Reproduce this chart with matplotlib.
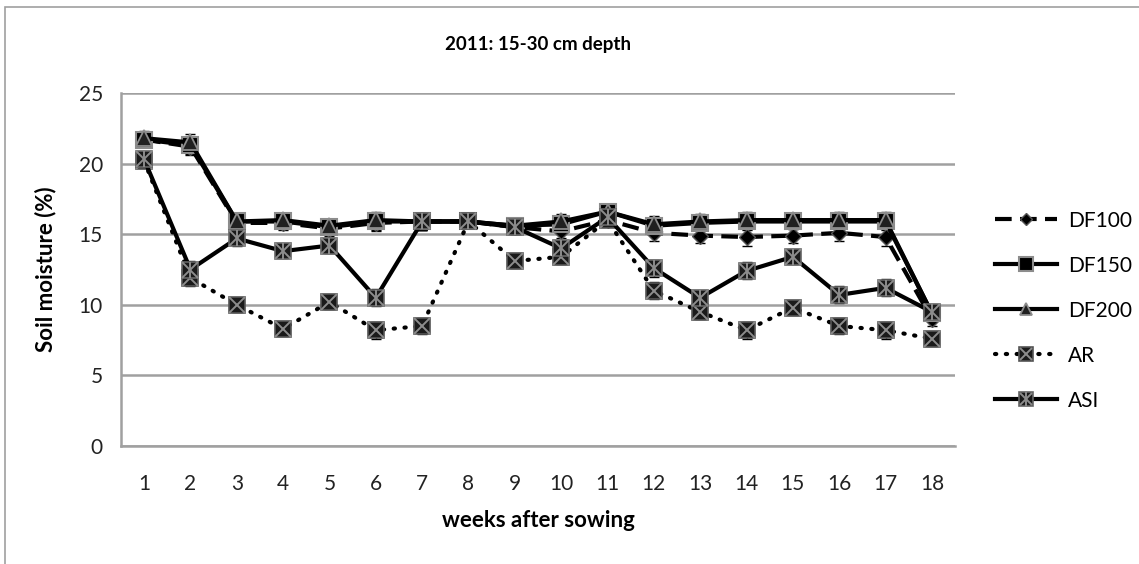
import matplotlib
matplotlib.use("Agg")
import matplotlib.pyplot as plt
from matplotlib.patches import Rectangle
from matplotlib.legend_handler import HandlerTuple

plt.rcParams['font.family'] = ['Lato', 'DejaVu Sans']

# --- DATA ---
weeks = list(range(1, 19))
df100 = [21.7, 21.2, 15.8, 15.8, 15.4, 15.8, 15.9, 15.9, 15.5, 15.2, 16.0, 15.1, 14.9, 14.8, 14.9, 15.1, 14.8, 9.0]
df150 = [21.7, 21.3, 15.9, 15.9, 15.5, 15.9, 15.9, 15.9, 15.6, 15.7, 16.6, 15.6, 15.8, 15.9, 15.9, 15.9, 15.9, 9.4]
df200 = [21.8, 21.5, 15.9, 16.0, 15.6, 16.0, 15.9, 15.9, 15.6, 15.9, 16.6, 15.7, 15.9, 16.0, 16.0, 16.0, 16.0, 9.4]
ar = [20.2, 11.9, 10.0, 8.3, 10.2, 8.2, 8.5, 15.9, 13.1, 13.4, 16.0, 11.0, 9.5, 8.2, 9.8, 8.5, 8.2, 7.6]
asi = [20.3, 12.5, 14.7, 13.8, 14.2, 10.5, 15.9, 15.9, 15.5, 14.0, 16.2, 12.6, 10.5, 12.4, 13.4, 10.7, 11.2, 9.5]
err = [0.5, 0.6, 0.5, 0.5, 0.5, 0.6, 0.6, 0.4, 0.5, 0.5, 0.4, 0.6, 0.5, 0.6, 0.5, 0.6, 0.6, 0.5]
yticks = [0, 5, 10, 15, 20, 25]

# --- STYLE ---
LW = 3.0
GRAY = '#8c8c8c'
fig = plt.figure(figsize=(11.39, 5.64), dpi=100)
ax = fig.add_axes([0.1062, 0.2092, 0.7323, 0.6259])

# outer chart border (only top and left visible in the crop)
fig.patches.append(Rectangle((5 / 1139, -0.1), 1.2, 1 - 7 / 564 + 0.1, transform=fig.transFigure,
                             fill=False, edgecolor='#a0a0a0', linewidth=1.2))

ekw = dict(ecolor='black', elinewidth=1.0, capsize=3.5, capthick=1.0)

# DF100
ax.errorbar(weeks, df100, yerr=err, fmt='none', **ekw, zorder=2)
l_df100, = ax.plot(weeks, df100, color='black', lw=LW, ls=(0, (4, 2)), marker='D', ms=8,
                   mfc='black', mec='#555555', mew=1.0, zorder=3)
# DF150
ax.errorbar(weeks, df150, yerr=err, fmt='none', **ekw, zorder=2)
l_df150, = ax.plot(weeks, df150, color='black', lw=LW, marker='s', ms=12,
                   mfc='black', mec=GRAY, mew=1.5, zorder=3)
# DF200
ax.errorbar(weeks, df200, yerr=err, fmt='none', **ekw, zorder=2)
l_df200, = ax.plot(weeks, df200, color='black', lw=LW, marker='^', ms=11,
                   mfc='#202020', mec=GRAY, mew=1.3, zorder=4)
# AR
ax.errorbar(weeks, ar, yerr=err, fmt='none', **ekw, zorder=2)
l_ar, = ax.plot(weeks, ar, color='black', lw=LW, ls=(0, (0.3, 2.3)), dash_capstyle='round',
                marker='s', ms=12, mfc='#1a1a1a', mec='#555555', mew=1.2, zorder=5)
x_ar, = ax.plot(weeks, ar, ls='none', marker='x', ms=11, mec=GRAY, mew=1.4, zorder=6)
# ASI
ax.errorbar(weeks, asi, yerr=err, fmt='none', **ekw, zorder=2)
l_asi, = ax.plot(weeks, asi, color='black', lw=LW, marker='s', ms=12,
                 mfc='#1a1a1a', mec='#666666', mew=1.2, zorder=7)
x_asi, = ax.plot(weeks, asi, ls='none', marker='x', ms=11, mec=GRAY, mew=1.4, zorder=8)
v_asi, = ax.plot(weeks, asi, ls='none', marker='|', ms=12, mec=GRAY, mew=1.4, zorder=8)

# --- AXES ---
ax.set_xlim(0.5, 18.5)
ax.set_ylim(0, 25)
ax.set_yticks(yticks)
ax.set_xticks(weeks)
ax.tick_params(axis='both', length=0, labelsize=15, colors='#222222')
ax.tick_params(axis='x', pad=20)
ax.tick_params(axis='y', pad=13)
ax.grid(axis='y', color='#a0a0a0', lw=1.8)
ax.set_axisbelow(True)
for s in ['top', 'right']:
    ax.spines[s].set_visible(False)
for s in ['left', 'bottom']:
    ax.spines[s].set_color('#a0a0a0')
    ax.spines[s].set_linewidth(1.8)

ax.set_title('2011: 15-30 cm depth', fontsize=13.5, fontweight='bold', pad=31)
ax.set_xlabel('weeks after sowing', fontsize=16, fontweight='bold', labelpad=12)
ax.set_ylabel('Soil moisture (%)', fontsize=16, fontweight='bold', labelpad=16)

handles = [l_df100, l_df150, l_df200, (l_ar, x_ar), (l_asi, x_asi, v_asi)]
labels = ['DF100', 'DF150', 'DF200', 'AR', 'ASI']
fig.legend(handles, labels, loc='center left', bbox_to_anchor=(0.857, 0.449), frameon=False,
           fontsize=15, handlelength=3.0, handletextpad=0.5, labelspacing=1.2, markerscale=0.8,
           handler_map={tuple: HandlerTuple(ndivide=1)})

fig.savefig('out.png', dpi=100)
